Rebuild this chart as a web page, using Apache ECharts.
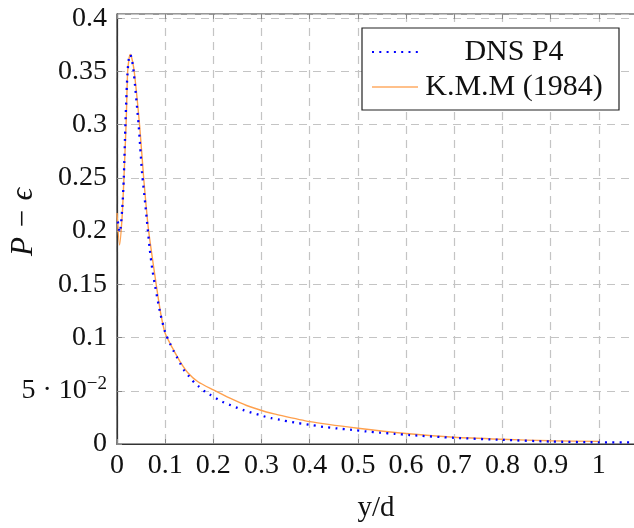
<!DOCTYPE html>
<html><head><meta charset="utf-8">
<script src="https://cdn.jsdelivr.net/npm/echarts@6/dist/echarts.min.js"></script>
<style>html,body{margin:0;padding:0;background:#fff}#c{width:634px;height:528px}</style>
</head><body><div id="c"></div>
<script>
var seriesNames = ['DNS P4', 'K.M.M (1984)'];
var dnsX = [0.0017,0.0058,0.0107,0.014,0.0176,0.021,0.024,0.0276,0.031,0.0348,0.045,0.052,0.059,0.068,0.0733,0.0793,0.0893,0.1,0.111,0.118,0.125,0.1315,0.14,0.15,0.16,0.17,0.183,0.195,0.209,0.222,0.236,0.25,0.264,0.279,0.294,0.308,0.321,0.337,0.368,0.398,0.428,0.457,0.487,0.517,0.546,0.576,0.607,0.7,0.8,0.9,1.0,1.075];
var dnsY = [0.209,0.199,0.22,0.249,0.302,0.342,0.360,0.366,0.361,0.349,0.299,0.255,0.224,0.183,0.164,0.148,0.124,0.105,0.0934,0.087,0.081,0.0755,0.0687,0.0633,0.0578,0.054,0.0491,0.0459,0.0421,0.039,0.0364,0.0339,0.0316,0.0294,0.0275,0.0256,0.0242,0.0228,0.0202,0.0182,0.0161,0.0146,0.0133,0.0118,0.0106,0.0096,0.0084,0.0058,0.0039,0.0023,0.0016,0.0015];
var kmmX = [0,0.0054,0.0107,0.014,0.019,0.022,0.025,0.0276,0.031,0.036,0.047,0.0555,0.0635,0.068,0.0813,0.091,0.1,0.1148,0.1315,0.148,0.168,0.2,0.2356,0.269,0.31,0.326,0.4,0.5,0.6,0.7,0.8,0.9,1.0];
var kmmY = [0.217,0.187,0.214,0.246,0.302,0.349,0.362,0.366,0.362,0.349,0.299,0.249,0.209,0.192,0.15,0.122,0.104,0.0905,0.077,0.0665,0.0585,0.0508,0.0428,0.0362,0.0301,0.0283,0.021,0.0148,0.0098,0.0063,0.0044,0.003,0.0025];
var xTicks = [0,0.1,0.2,0.3,0.4,0.5,0.6,0.7,0.8,0.9,1];
var yTickLabels = {'0':'0','0.05':'5 · 10{sup|−2}','0.1':'0.1','0.15':'0.15','0.2':'0.2','0.25':'0.25','0.3':'0.3','0.35':'0.35','0.4':'0.4'};

function zip(a,b){return a.map(function(v,i){return [v,b[i]];});}
var FONT = '"Liberation Serif", "DejaVu Serif", serif';
var chart = echarts.init(document.getElementById('c'), null, {renderer:'canvas'});
var tickStyle = {show:true, inside:true, length:5, lineStyle:{color:'#888', width:1}};
var gridLine = {show:true, lineStyle:{color:'#c4c4c4', type:[8,6], width:1.2}};
chart.setOption({
  animation:false,
  backgroundColor:'#fff',
  grid:{left:117, right:-1, top:14, bottom:84, containLabel:false, outerBoundsMode:'none',
        show:true, borderColor:'#333', borderWidth:1.2, backgroundColor:'transparent'},
  xAxis:[{
    type:'value', min:0, max:1.075, interval:0.1,
    name:'y/d', nameLocation:'middle', nameGap:50, nameMoveOverlap:false,
    nameTextStyle:{fontFamily:FONT, fontSize:29, color:'#111'},
    axisLine:{show:true, lineStyle:{color:'#333', width:1.2}},
    axisTick:tickStyle,
    splitLine:gridLine,
    axisLabel:{fontFamily:FONT, fontSize:28, color:'#111', margin:8, showMaxLabel:false,
      formatter:function(v){
        for (var i=0;i<xTicks.length;i++){ if (Math.abs(v-xTicks[i])<1e-6) return String(xTicks[i]); }
        return '';
      }}
  },{
    type:'value', position:'top', min:0, max:1.075, interval:0.1,
    axisLine:{show:false}, axisTick:tickStyle, axisLabel:{show:false}, splitLine:{show:false}
  }],
  yAxis:[{
    type:'value', min:0, max:0.404, interval:0.05,
    name:'P − ϵ', nameLocation:'middle', nameGap:78, nameRotate:90, nameMoveOverlap:false,
    nameTextStyle:{fontFamily:FONT, fontSize:31, color:'#111', fontStyle:'italic', padding:[0,0,0,14]},
    axisLine:{show:true, lineStyle:{color:'#333', width:1.2}},
    axisTick:tickStyle,
    splitLine:gridLine,
    axisLabel:{fontFamily:FONT, fontSize:28, color:'#111', margin:10, showMaxLabel:false,
      formatter:function(v){
        var k = String(Math.round(v*100)/100);
        return yTickLabels.hasOwnProperty(k) ? yTickLabels[k] : '';
      },
      rich:{sup:{fontFamily:FONT, fontSize:19, color:'#111', verticalAlign:'top', padding:[0,0,14,0]}}}
  }],
  legend:{
    orient:'vertical', right:15, top:28,
    padding:[9,14,8,9], itemGap:5, itemWidth:46, itemHeight:14,
    backgroundColor:'#fff', borderColor:'#222', borderWidth:1.2, borderRadius:0,
    data:[{name:seriesNames[0]},{name:seriesNames[1], lineStyle:{color:'#ffc08a'}}],
    itemStyle:{opacity:0},
    formatter:function(n){return '{c|'+n+'}';},
    textStyle:{fontFamily:FONT, fontSize:30, color:'#111',
      rich:{c:{fontFamily:FONT, fontSize:30, color:'#111', width:182, align:'center', lineHeight:32}}}
  },
  series:[{
    name:seriesNames[0], type:'line', data:zip(dnsX,dnsY), showSymbol:false, symbol:'none',
    smooth:0.25, z:3,
    lineStyle:{color:'#0000ff', width:2.3, type:[2,5.3], cap:'butt'},
    itemStyle:{color:'#0000ff'}
  },{
    name:seriesNames[1], type:'line', data:zip(kmmX,kmmY), showSymbol:false, symbol:'none',
    smooth:0.25, z:2,
    lineStyle:{color:'#ffa04d', width:1.4},
    itemStyle:{color:'#ffa04d'}
  }]
});
</script></body></html>
